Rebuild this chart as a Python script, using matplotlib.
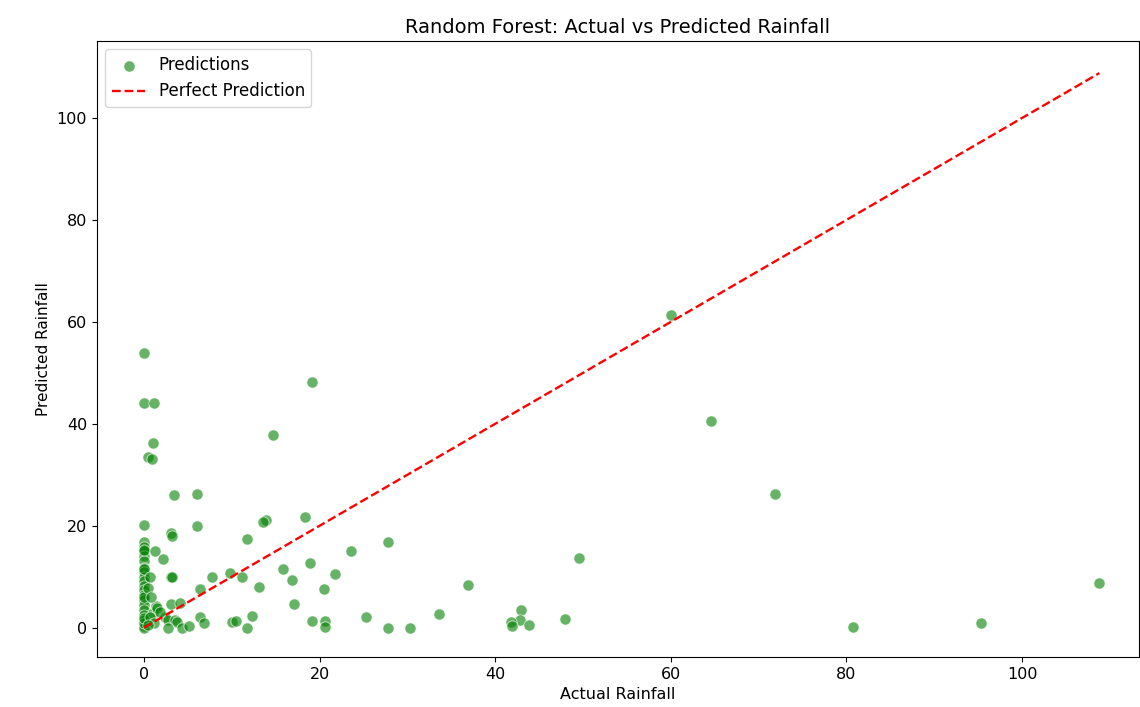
import numpy as np
import matplotlib
matplotlib.use("Agg")
import matplotlib.pyplot as plt

# values (actual, predicted)
actual = [0, 0, 0, 0, 0, 0, 0, 0, 0, 0, 0, 0, 0, 0, 0, 0, 0, 0, 0, 0, 0, 0, 0, 0, 0, 0, 0,
          1.1, 1.0, 0.5, 0.9, 0.7, 0.5, 1.3, 2.2, 1.0, 0.7, 1.4, 1.5, 2.4, 2.7, 3.5, 3.8,
          2.7, 4.3, 5.1, 3.1, 4.1, 3.1, 3.2, 3.4, 6.0, 6.0, 3.1, 3.2, 6.4, 6.9, 6.4, 7.7,
          9.8, 11.2, 13.1, 11.7, 13.9, 13.6, 18.3, 14.7, 19.2, 60.0, 64.6, 71.9, 108.8,
          49.6, 36.9, 27.8, 23.6, 18.9, 21.8, 15.8, 16.9, 20.5, 17.1, 19.1, 20.6, 20.6,
          25.3, 27.8, 30.3, 33.6, 42.9, 42.8, 41.8, 41.9, 43.8, 48.0, 80.8, 95.3, 12.3,
          11.7, 10.0, 10.5, 1.2, 0.5, 1.8, 0.8]
predicted = [53.9, 44.1, 20.2, 16.9, 15.9, 15.1, 14.1, 13.0, 11.8, 11.0, 10.0, 9.1, 8.2,
             7.5, 6.5, 5.5, 4.5, 3.5, 2.5, 1.6, 0.3, 0.0, 1.0, 2.0, 15.3, 11.5, 6.0,
             44.1, 36.3, 33.5, 33.1, 10.0, 7.8, 15.1, 13.5, 2.9, 2.2, 4.3, 3.9, 2.2, 1.6,
             1.6, 1.2, 0.0, 0.0, 0.4, 4.7, 4.9, 10.0, 9.9, 26.1, 26.3, 20.0, 18.6, 18.0,
             2.2, 1.0, 7.6, 10.0, 10.8, 10.0, 8.0, 17.5, 21.2, 20.8, 21.8, 37.8, 48.2,
             61.3, 40.6, 26.2, 8.8, 13.7, 8.4, 16.9, 15.1, 12.7, 10.6, 11.6, 9.4, 7.6,
             4.7, 1.4, 1.4, 0.2, 2.2, 0.0, 0.0, 2.7, 3.5, 1.6, 1.2, 0.4, 0.5, 1.8, 0.2,
             0.9, 2.4, 0.0, 1.2, 1.4, 1.0, 0.5, 3.0, 6.0]

actual = np.array(actual)
predicted = np.array(predicted)

fig = plt.figure(figsize=(11.4, 7.07), dpi=100)
ax = fig.add_axes([0.085, 0.071, 0.914, 0.871])

ax.scatter(actual, predicted, color='green', alpha=0.6, s=65,
           edgecolors='white', linewidths=0.75, label='Predictions')
ax.plot([actual.min(), actual.max()], [actual.min(), actual.max()],
        'r--', lw=1.7, label='Perfect Prediction')

ax.set_xlim(-5.35, 113.3)
ax.set_ylim(-5.7, 115.1)
ax.set_xlabel('Actual Rainfall', fontsize=11.5)
ax.set_ylabel('Predicted Rainfall', fontsize=11)
ax.set_title('Random Forest: Actual vs Predicted Rainfall', fontsize=14)
ax.tick_params(labelsize=11.5)
ax.legend(loc='upper left', fontsize=12)

plt.savefig('out.png', dpi=100)
